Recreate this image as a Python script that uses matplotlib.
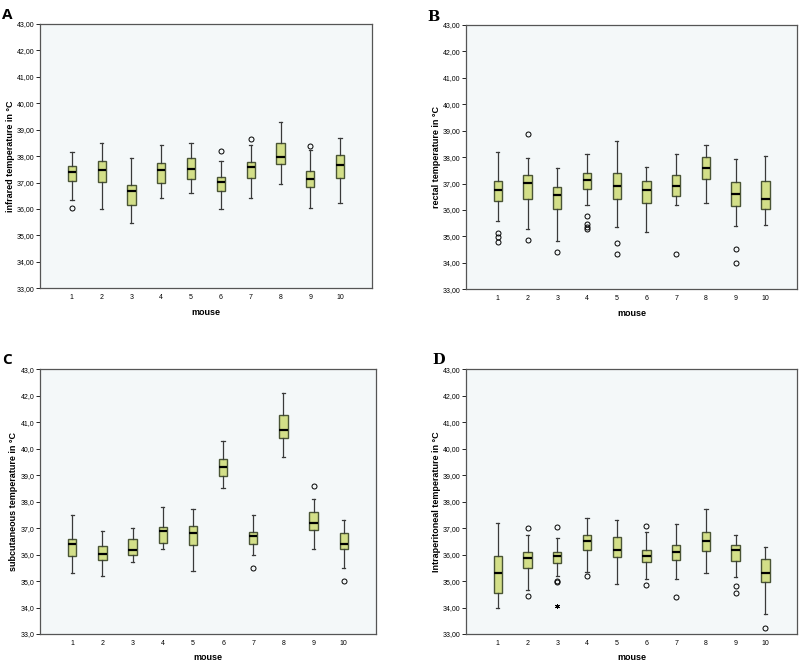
import matplotlib
matplotlib.use("Agg")
from matplotlib import pyplot as plt
from matplotlib.ticker import FuncFormatter

mice = [1, 2, 3, 4, 5, 6, 7, 8, 9, 10]

# A - infrared
a_lo  = [36.35, 36.00, 35.46, 36.42, 36.60, 35.99, 36.40, 36.93, 36.03, 36.23]
a_q1  = [37.05, 37.02, 36.15, 36.98, 37.14, 36.68, 37.16, 37.71, 36.82, 37.17]
a_med = [37.39, 37.46, 36.67, 37.46, 37.51, 37.01, 37.60, 37.98, 37.15, 37.65]
a_q3  = [37.62, 37.82, 36.90, 37.73, 37.92, 37.21, 37.77, 38.51, 37.43, 38.06]
a_hi  = [38.15, 38.49, 37.93, 38.43, 38.49, 37.80, 38.43, 39.28, 38.22, 38.70]
a_out = [[36.03], [], [], [], [], [38.21], [38.65], [], [38.37], []]

# B - rectal
b_lo  = [35.57, 35.28, 34.83, 36.20, 35.35, 35.18, 36.18, 36.25, 35.38, 35.42]
b_q1  = [36.33, 36.41, 36.03, 36.78, 36.41, 36.25, 36.53, 37.16, 36.15, 36.05]
b_med = [36.76, 37.01, 36.57, 37.14, 36.92, 36.76, 36.92, 37.59, 36.62, 36.43]
b_q3  = [37.11, 37.31, 36.86, 37.41, 37.39, 37.11, 37.31, 38.01, 37.05, 37.11]
b_hi  = [38.21, 37.97, 37.60, 38.12, 38.61, 37.62, 38.11, 38.45, 37.92, 38.05]
b_out = [[35.14, 34.98, 34.80], [38.88, 34.88], [34.42],
         [35.76, 35.47, 35.37, 35.29], [34.75, 34.34], [], [34.35], [],
         [34.53, 34.01], []]

# C - subcutaneous
c_lo  = [35.30, 35.19, 35.71, 36.20, 35.39, 38.52, 36.00, 39.70, 36.20, 35.48]
c_q1  = [35.94, 35.80, 36.00, 36.44, 36.36, 38.96, 36.40, 40.39, 36.94, 36.20]
c_med = [36.40, 36.01, 36.19, 36.90, 36.80, 39.30, 36.71, 40.71, 37.21, 36.40]
c_q3  = [36.60, 36.31, 36.60, 37.05, 37.09, 39.60, 36.84, 41.26, 37.60, 36.80]
c_hi  = [37.50, 36.90, 36.99, 37.80, 37.71, 40.30, 37.50, 42.09, 38.10, 37.30]
c_out = [[], [], [], [], [], [], [35.49], [], [38.59], [34.99]]

# D - intraperitoneal
d_lo  = [33.99, 34.65, 35.19, 35.34, 34.88, 35.08, 35.08, 35.30, 35.17, 33.74]
d_q1  = [34.54, 35.49, 35.69, 36.16, 35.91, 35.71, 35.80, 36.14, 35.76, 34.95]
d_med = [35.32, 35.86, 35.96, 36.53, 36.18, 35.96, 36.09, 36.53, 36.18, 35.32]
d_q3  = [35.96, 36.10, 36.10, 36.74, 36.65, 36.16, 36.35, 36.84, 36.35, 35.82]
d_hi  = [37.20, 36.74, 36.63, 37.39, 37.29, 36.84, 37.14, 37.73, 36.74, 36.30]
d_out = [[], [36.99, 34.42], [37.05, 35.01, 34.96], [35.18], [],
         [37.08, 34.85], [34.41], [], [34.80, 34.54], [33.22]]
d_extreme = [[], [], [34.06], [], [], [], [], [], [], []]

panels = [
    ("A", "infrared temperature in °C", 2, a_lo, a_q1, a_med, a_q3, a_hi, a_out, None),
    ("B", "rectal temperature in °C", 2, b_lo, b_q1, b_med, b_q3, b_hi, b_out, None),
    ("C", "subcutaneous temperature in °C", 1, c_lo, c_q1, c_med, c_q3, c_hi, c_out, None),
    ("D", "Intraperitoneal temperature in °C", 2, d_lo, d_q1, d_med, d_q3, d_hi, d_out, d_extreme),
]

# axes rectangles in figure fractions
rects = [
    [0.050, 0.5658, 0.415, 0.398],
    [0.5825, 0.5643, 0.414, 0.398],
    [0.050, 0.0452, 0.420, 0.3986],
    [0.5825, 0.0452, 0.414, 0.3986],
]
letter_pos = [(0.003, 0.978), (0.534, 0.975), (0.003, 0.458), (0.540, 0.458)]
letter_font = ["Open Sans", "DejaVu Serif", "Open Sans", "DejaVu Serif"]

plt.rcParams['font.family'] = ['Liberation Sans', 'DejaVu Sans']

fig = plt.figure(figsize=(8, 6.64), dpi=100)

for (letter, ylab, dec, lo, q1, med, q3, hi, out, ext), rect, lp, lf in zip(
        panels, rects, letter_pos, letter_font):
    ax = fig.add_axes(rect)
    ax.set_facecolor("#f4f8f9")
    stats = []
    for i in range(len(mice)):
        stats.append({"whislo": lo[i], "q1": q1[i], "med": med[i], "q3": q3[i],
                      "whishi": hi[i], "fliers": out[i], "label": str(mice[i])})
    ax.bxp(stats, positions=mice, widths=0.28, capwidths=0.11, patch_artist=True,
           boxprops=dict(facecolor="#d3df88", edgecolor="#4a5535", linewidth=1.0),
           medianprops=dict(color="black", linewidth=1.6),
           whiskerprops=dict(color="#3a3a3a", linewidth=0.9),
           capprops=dict(color="#3a3a3a", linewidth=0.9),
           flierprops=dict(marker="o", markersize=3.6, markerfacecolor="none",
                           markeredgecolor="black", markeredgewidth=0.7))
    if ext is not None:
        for m, vals in zip(mice, ext):
            if vals:
                ax.plot([m] * len(vals), vals, linestyle="none", marker=(6, 2, 0),
                        markersize=3.5, markeredgewidth=0.7, color="black")
    ax.set_xlim(-0.07, 11.07)
    ax.set_ylim(33, 43)
    ax.set_yticks(range(33, 44))
    ax.yaxis.set_major_formatter(FuncFormatter(
        lambda v, p, d=dec: f"{v:.{d}f}".replace(".", ",")))
    ax.tick_params(axis="y", labelsize=5, length=3, width=0.6, pad=1)
    ax.tick_params(axis="x", labelsize=5, length=0, pad=4)
    for s in ax.spines.values():
        s.set_color("#555555")
        s.set_linewidth(0.9)
    ax.set_xlabel("mouse", fontsize=6.5, fontweight="bold", labelpad=5)
    ax.set_ylabel(ylab, fontsize=6.5, fontweight="bold", labelpad=1.5)
    if lf == "DejaVu Serif":
        fig.text(lp[0], lp[1], letter, fontsize=10.5, fontweight="bold",
                 family=lf, va="center", ha="left")
    else:
        fig.text(lp[0], lp[1], letter, fontsize=11, fontweight="bold", family=lf,
                 va="center", ha="left")

fig.savefig("out.png", dpi=100)
